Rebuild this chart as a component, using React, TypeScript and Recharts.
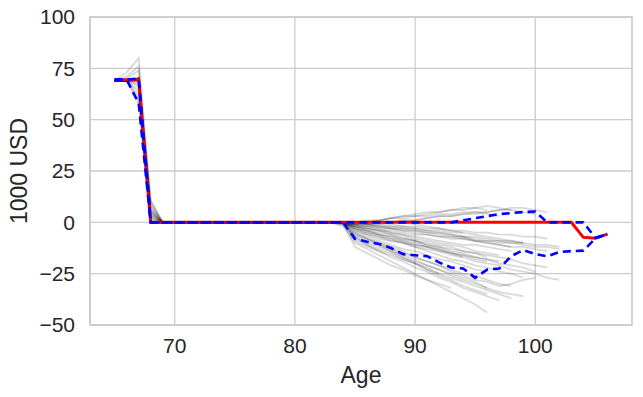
import React from 'react';
import { LineChart, Line, XAxis, YAxis, CartesianGrid, ReferenceArea } from 'recharts';

// ages 65..106
const ages = [
  65, 66, 67, 68, 69, 70, 71, 72, 73, 74, 75, 76, 77, 78, 79, 80, 81, 82, 83, 84, 85,
  86, 87, 88, 89, 90, 91, 92, 93, 94, 95, 96, 97, 98, 99, 100, 101, 102, 103, 104, 105, 106,
];

const medianValues = [
  69.5, 69.5, 69.5, 0, 0, 0, 0, 0, 0, 0, 0, 0, 0, 0, 0, 0, 0, 0, 0, 0, 0,
  0, 0, 0, 0, 0, 0, 0, 0, 0, 0, 0, 0, 0, 0, 0, 0, 0, 0, -7.3, -7.8, -5.7,
];

const lowerValues = [
  69.5, 69.5, 58, 0, 0, 0, 0, 0, 0, 0, 0, 0, 0, 0, 0, 0, 0, 0, 0, 0, -8,
  -9.5, -10.5, -12.5, -15.5, -16, -16.5, -19.5, -22, -22.5, -27, -23, -22.5, -16.5, -13.5, -15.5, -16.5, -14.5, -14, -13.8, -7.8, -5.7,
];

const upperValues = [
  69.5, 69.5, 70, 0, 0, 0, 0, 0, 0, 0, 0, 0, 0, 0, 0, 0, 0, 0, 0, 0, 0,
  0, 0, 0, 0, 0, 0, 0, 0, 1, 2, 3, 4, 4.5, 5, 5.2, 0, 0, 0, 0, -7.5, -5.7,
];

// simulated paths: values at 65, 66, 67, 68, then from age 84 on (flat at 0 in between)
const simPaths = [
  [69, 69, 70, 3, 0, -3, -5, -6, -8, -9, -11, -12, -13, -15, -16, -18, -19],
  [69, 69, 69, 0, 0, -1, -2, -3, -3, -4, -5, -6, -7, -8, -8, -9, -10, -11, -12, -12, -13, -14],
  [69, 69, 66, 4, -1, -6, -8, -10, -12, -14, -17, -19, -21, -23, -25, -26, -28, -30, -31],
  [69, 69, 70, 0, 0, 0, -1, -1, 0, 1, 1, 2, 3, 3, 4, 5, 5, 6, 6, 5, 4],
  [69, 69, 62, 0, 0, -4, -7, -9, -11, -13, -14, -16, -18, -19, -21, -23, -24],
  [69, 70, 74, 8, -2, -10, -13, -16, -19, -22, -25, -28, -31, -34, -37, -40, -44],
  [69, 69, 69, 6, 0, -2, -3, -4, -4, -5, -6, -6, -7, -7, -8, -9, -9, -10, -10, -11, -12, -12, -13],
  [69, 69, 58, 0, 0, -1, -1, -2, -2, -3, -3, -4, -4, -5, -5],
  [69, 69, 70, 2, 0, -5, -8, -10, -13, -15, -17, -19, -21, -24, -26, -28, -29, -31, -30, -28, -27],
  [69, 73, 80, 11, 0, -2, -3, -4, -5, -6, -8, -9, -10, -11, -12, -14, -15, -16],
  [69, 69, 69, 0, 0, 0, 1, 1, 2, 2, 3, 3, 4, 4, 5, 5, 4, 3],
  [69, 69, 67, 3, -1, -7, -10, -12, -14, -17, -19, -21, -23, -25, -27, -29, -32, -34, -35, -36],
  [69, 69, 70, 9, 0, -2, -4, -5, -6, -7, -9, -10, -11, -12, -14, -15, -16, -17, -18, -20, -21, -22],
  [69, 69, 70, 0, 0, -3, -6, -8, -9, -10, -12, -13, -14, -16, -17],
  [69, 69, 64, 6, -1, -8, -11, -14, -16, -18, -20, -22, -25, -27, -29, -31, -33, -35, -37],
  [69, 69, 70, 0, 0, -1, -1, 0, 0, 1, 1, 2, 3, 3, 4, 4, 5, 6, 7, 7, 6, 5],
  [69, 69, 69, 4, 0, -4, -6, -7, -8, -10, -11, -12, -13, -15, -16, -17, -18, -19],
  [69, 69, 70, 0, 0, -2, -2, -3, -5, -6, -7, -8, -9, -10, -11, -11, -12, -13, -14],
  [69, 69, 70, 1, 0, -6, -9, -11, -13, -16, -18, -21, -23, -26, -28, -30, -32],
  [69, 69, 68, 7, 0, 0, -1, -2, -3, -3, -4, -5, -5, -6, -7, -7, -8, -9, -9, -10],
  [69, 69, 70, 0, 0, 0, 0, 0, -1, -2, -3, -4, -5, -6, -7, -9, -10, -11, -12],
  [69, 69, 70, 0, 0, 0, 0, 1, 2, 3, 3, 4, 5, 6, 7, 7, 8, 7, 6],
  [69, 69, 70, 5, 0, -5, -8, -11, -14, -17, -20, -23, -26, -28, -31, -33, -35],
  [69, 69, 70, 0, 0, -1, -3, -4, -6, -8, -9, -11, -12, -14, -15, -17, -18, -20, -21, -22, -24],
  [69, 69, 69, 0, 0, -9, -12, -14, -17, -19, -22, -24, -27, -29, -32, -34, -36, -38],
  [69, 71, 76, 5, 0, -3, -4, -6, -7, -8, -9, -11, -12, -13, -14, -15, -17],
  [69, 69, 70, 0, 0, 0, -1, -1, -2, -2, -2, -3, -3, -4, -4, -5, -5, -6, -6, -7, -7, -8],
  [69, 69, 70, 2, 0, -2, -4, -6, -7, -9, -10, -12, -14, -15, -17, -19, -20, -21, -23, -24, -25, -27, -28],
  [69, 69, 60, 0, 0, -7, -11, -13, -15, -18, -20, -23, -25],
  [69, 69, 70, 0, 0, -1, 0, 1, 2, 3, 4, 5, 5, 6, 6, 7, 6],
  [69, 69, 70, 10, 0, -3, -5, -7, -9, -10, -12, -14, -16, -18, -19, -21, -22, -24, -25, -27],
  [69, 69, 70, 0, 0, -12, -15, -18, -21, -23, -26, -28, -30, -32],
  [69, 69, 70, 0, 0, -1, -2, -2, -3, -4, -4, -5, -6, -7, -7, -8, -9, -9, -10, -10, -11, -11, -12],
  [69, 69, 70, 0, 0, 0, 0, 0, 0, 0, -1, -2, -3, -4, -5, -6, -7, -8, -9, -10],
];

const xTicks = [70, 80, 90, 100];
const yTicks = [-50, -25, 0, 25, 50, 75, 100];

const X_DOMAIN: [number, number] = [62.95, 108.05];
const Y_DOMAIN: [number, number] = [-50, 100];

const FONT = '"Liberation Sans", Arial, sans-serif';
const TEXT = '#262626';
const GRID = '#cccccc';

const pathValue = (p: number[], age: number) => {
  if (age <= 68) return p[age - 65];
  if (age < 84) return 0;
  const v = p[4 + age - 84];
  return v === undefined ? null : v;
};

const data = ages.map((age, i) => {
  const row: any = { age, median: medianValues[i], lo: lowerValues[i], hi: upperValues[i] };
  simPaths.forEach((p, k) => {
    row[`s${k}`] = pathValue(p, age);
  });
  return row;
});

const fmt = (v: number) => String(v).replace('-', '\u2212');

const YLabel = ({ viewBox }: any) => {
  const x = viewBox.x + 27;
  const y = viewBox.y + viewBox.height / 2;
  return (
    <text x={x} y={y} transform={`rotate(-90, ${x}, ${y})`} textAnchor="middle"
      fill={TEXT} fontSize={23} fontFamily={FONT}>
      1000 USD
    </text>
  );
};

const XLabel = ({ viewBox }: any) => (
  <text x={viewBox.x + viewBox.width / 2} y={viewBox.y + 58} textAnchor="middle"
    fill={TEXT} fontSize={23} fontFamily={FONT}>
    Age
  </text>
);

export default function App() {
  return (
    <div style={{ position: 'absolute', left: 0, top: 0, background: '#fff' }}>
      <LineChart width={643} height={397} data={data}
        margin={{ top: 17, right: 11, bottom: 0, left: 0 }}>
        <CartesianGrid stroke={GRID} strokeWidth={1.3} />
        <XAxis dataKey="age" type="number" domain={X_DOMAIN} ticks={xTicks} allowDataOverflow
          height={72} tickSize={0} tickMargin={13} interval={0}
          axisLine={{ stroke: GRID, strokeWidth: 1.3 }}
          tick={{ fill: TEXT, fontSize: 21, fontFamily: FONT }}
          label={<XLabel />} />
        <YAxis type="number" domain={Y_DOMAIN} ticks={yTicks} allowDataOverflow
          width={90} tickSize={0} tickMargin={15} interval={0} tickFormatter={fmt}
          axisLine={{ stroke: GRID, strokeWidth: 1.3 }}
          tick={{ fill: TEXT, fontSize: 21, fontFamily: FONT }}
          label={<YLabel />} />
        <ReferenceArea x1={X_DOMAIN[0]} x2={X_DOMAIN[1]} y1={Y_DOMAIN[0]} y2={Y_DOMAIN[1]}
          fill="none" fillOpacity={0} stroke={GRID} strokeWidth={1.3} />
        {simPaths.map((_, k) => (
          <Line key={k} dataKey={`s${k}`} type="linear" stroke="#000" strokeOpacity={0.15}
            strokeWidth={1.8} dot={false} activeDot={false} isAnimationActive={false} />
        ))}
        <Line dataKey="median" type="linear" stroke="#ff0000" strokeWidth={3}
          dot={false} activeDot={false} isAnimationActive={false} />
        <Line dataKey="lo" type="linear" stroke="#0000ff" strokeWidth={2.6} strokeDasharray="8 5"
          dot={false} activeDot={false} isAnimationActive={false} />
        <Line dataKey="hi" type="linear" stroke="#0000ff" strokeWidth={2.6} strokeDasharray="8 5"
          dot={false} activeDot={false} isAnimationActive={false} />
      </LineChart>
    </div>
  );
}
